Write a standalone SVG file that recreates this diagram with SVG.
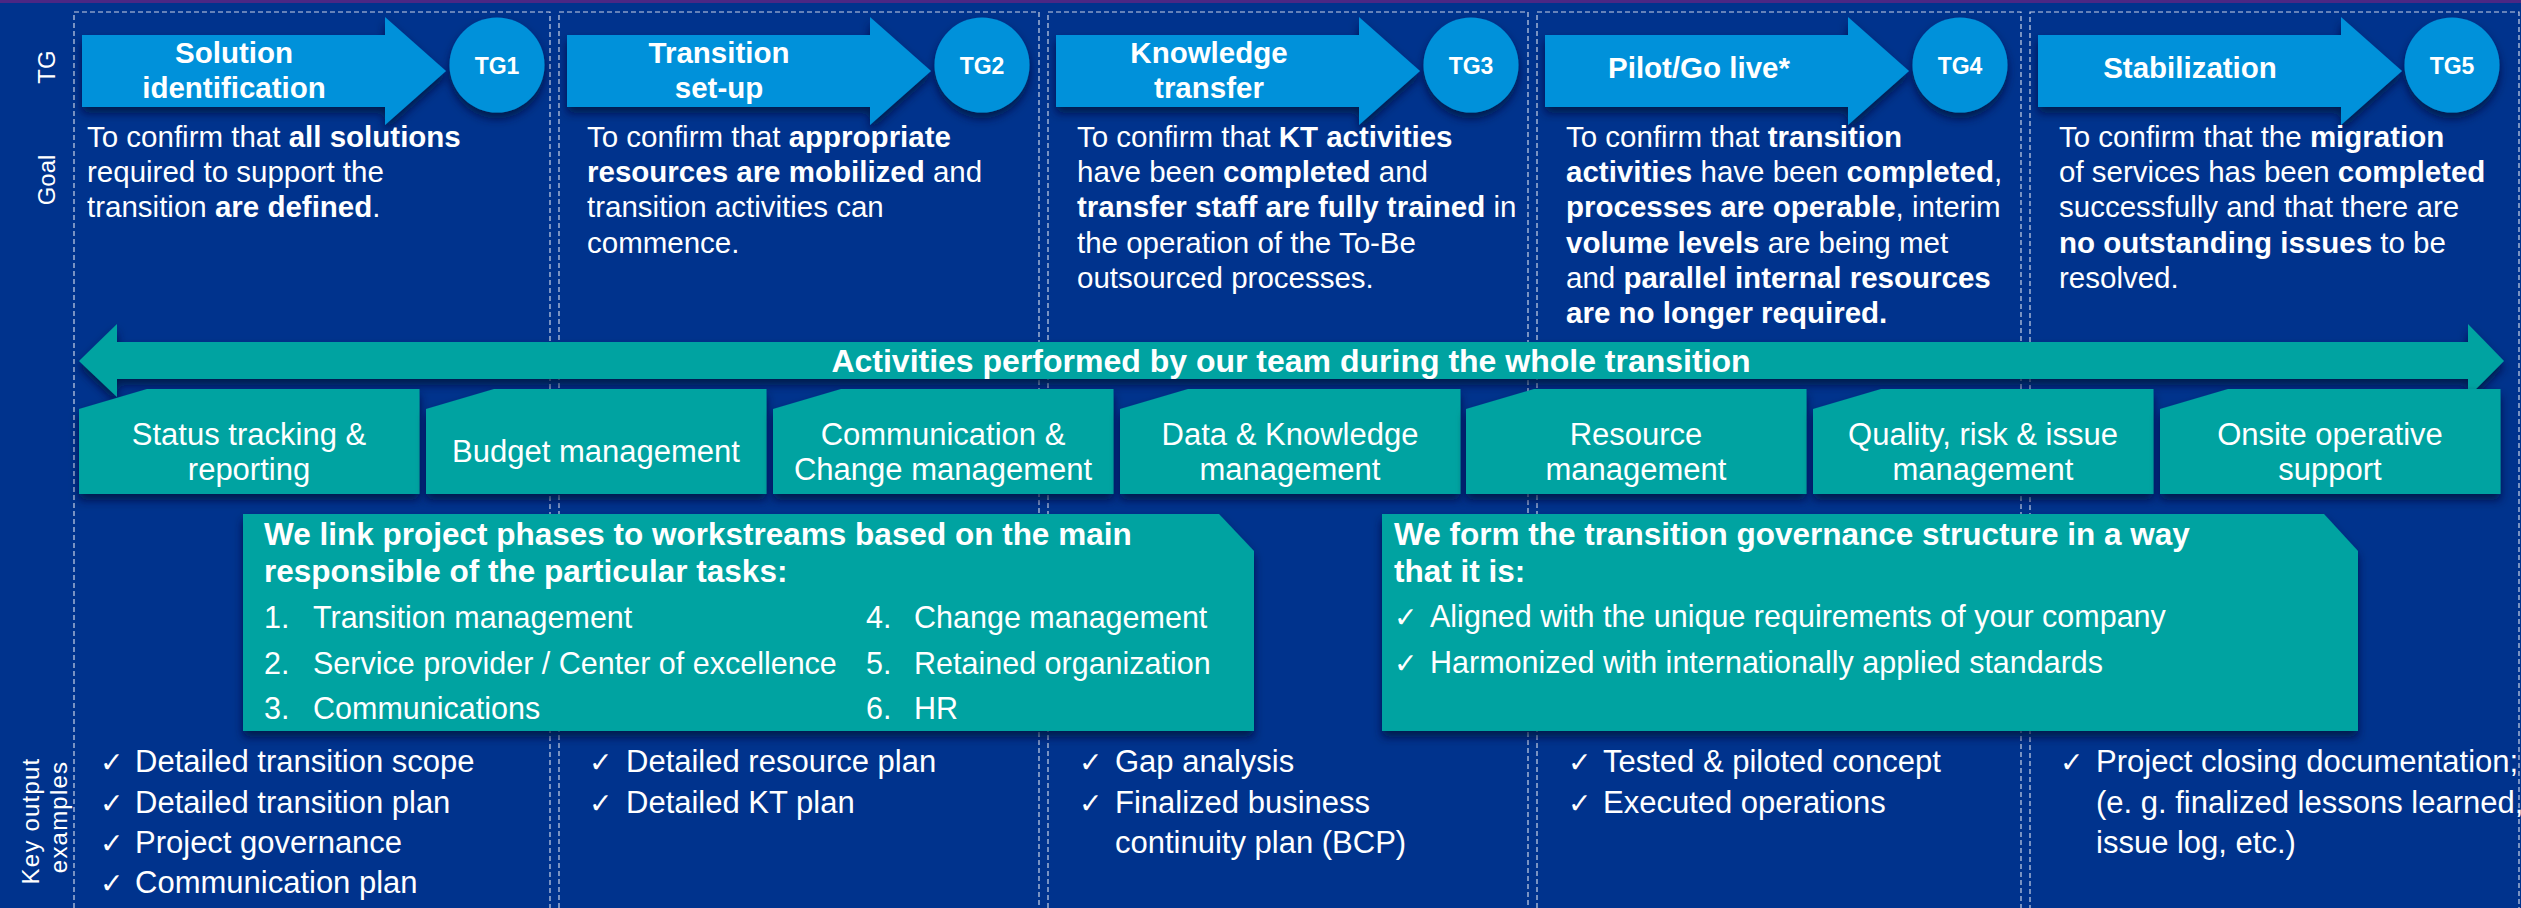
<svg xmlns="http://www.w3.org/2000/svg" xmlns:xlink="http://www.w3.org/1999/xlink" width="2521" height="908" viewBox="0 0 2521 908">
<defs>
<style>
.bg{fill:#00338D}
.topline{fill:#4B2784}
.lane{fill:none;stroke:#C9D2E6;stroke-width:1.2;stroke-dasharray:5 3}
.phase{fill:#0091DA}
.teal{fill:#00A3A1}
.t{font-family:"Liberation Sans",Arial,sans-serif;fill:#fff}
.side{font-size:24px}
.ph{font-size:29.5px;font-weight:700;text-anchor:middle}
.tgl{font-size:23px;font-weight:700;text-anchor:middle}
.goal{font-size:29.5px}
.b{font-weight:700}
.act{font-size:31px;text-anchor:middle}
.acttitle{font-size:32px;font-weight:700;text-anchor:middle}
.noteh{font-size:31.5px;font-weight:700}
.note{font-size:30.5px}
.out{font-size:31px}
.ck{font-family:"DejaVu Sans",sans-serif;font-size:28px}
</style>
<filter id="shadow" x="-10%" y="-20%" width="120%" height="160%">
<feDropShadow dx="0" dy="6" stdDeviation="5" flood-color="#001338" flood-opacity="0.75"/>
</filter>
<path id="phaseArrow" d="M8,35H311V17L372,71L311,125V107H8Z"/>
<path id="actTab" d="M0,20L68,0H340.5V105H0Z"/>
</defs>

<!-- background -->
<rect class="bg" x="0" y="0" width="2521" height="908"/>
<rect class="topline" x="0" y="0" width="2521" height="3"/>

<!-- row labels -->
<g id="row-labels" class="t side">
<text transform="translate(55,67) rotate(-90)" text-anchor="middle">TG</text>
<text transform="translate(55,180) rotate(-90)" text-anchor="middle">Goal</text>
<text transform="translate(39,821) rotate(-90)" text-anchor="middle" letter-spacing="1.2">Key output</text>
<text transform="translate(67,817) rotate(-90)" text-anchor="middle" letter-spacing="1.2">examples</text>
</g>

<!-- phase lanes -->
<g id="lanes">
<rect class="lane" x="74" y="12" width="476" height="920"/>
<rect class="lane" x="559" y="12" width="480" height="920"/>
<rect class="lane" x="1048" y="12" width="480" height="920"/>
<rect class="lane" x="1537" y="12" width="484" height="920"/>
<rect class="lane" x="2030" y="12" width="489" height="920"/>
</g>

<!-- phase 1 -->
<g id="phase-tg1">
<g filter="url(#shadow)">
<use href="#phaseArrow" class="phase" x="74"/>
<circle class="phase" cx="497" cy="65" r="47.5"/>
</g>
<text class="t ph" x="234" y="63">Solution</text>
<text class="t ph" x="234" y="98">identification</text>
<text class="t tgl" x="497" y="74">TG1</text>
<text class="t goal" x="87" y="146.7">To confirm that <tspan class="b">all solutions</tspan></text>
<text class="t goal" x="87" y="182">required to support the</text>
<text class="t goal" x="87" y="217.3">transition <tspan class="b">are defined</tspan>.</text>
</g>

<!-- phase 2 -->
<g id="phase-tg2">
<g filter="url(#shadow)">
<use href="#phaseArrow" class="phase" x="559"/>
<circle class="phase" cx="982" cy="65" r="47.5"/>
</g>
<text class="t ph" x="719" y="63">Transition</text>
<text class="t ph" x="719" y="98">set-up</text>
<text class="t tgl" x="982" y="74">TG2</text>
<text class="t goal" x="587" y="146.7">To confirm that <tspan class="b">appropriate</tspan></text>
<text class="t goal" x="587" y="182"><tspan class="b">resources are mobilized</tspan> and</text>
<text class="t goal" x="587" y="217.3">transition activities can</text>
<text class="t goal" x="587" y="252.6">commence.</text>
</g>

<!-- phase 3 -->
<g id="phase-tg3">
<g filter="url(#shadow)">
<use href="#phaseArrow" class="phase" x="1048"/>
<circle class="phase" cx="1471" cy="65" r="47.5"/>
</g>
<text class="t ph" x="1209" y="63">Knowledge</text>
<text class="t ph" x="1209" y="98">transfer</text>
<text class="t tgl" x="1471" y="74">TG3</text>
<text class="t goal" x="1077" y="146.7">To confirm that <tspan class="b">KT activities</tspan></text>
<text class="t goal" x="1077" y="182">have been <tspan class="b">completed</tspan> and</text>
<text class="t goal" x="1077" y="217.3"><tspan class="b">transfer staff are fully trained</tspan> in</text>
<text class="t goal" x="1077" y="252.6">the operation of the To-Be</text>
<text class="t goal" x="1077" y="287.9">outsourced processes.</text>
</g>

<!-- phase 4 -->
<g id="phase-tg4">
<g filter="url(#shadow)">
<use href="#phaseArrow" class="phase" x="1537"/>
<circle class="phase" cx="1960" cy="65" r="47.5"/>
</g>
<text class="t ph" x="1699" y="78">Pilot/Go live*</text>
<text class="t tgl" x="1960" y="74">TG4</text>
<text class="t goal" x="1566" y="146.7">To confirm that <tspan class="b">transition</tspan></text>
<text class="t goal" x="1566" y="182"><tspan class="b">activities</tspan> have been <tspan class="b">completed</tspan>,</text>
<text class="t goal" x="1566" y="217.3"><tspan class="b">processes are operable</tspan>, interim</text>
<text class="t goal" x="1566" y="252.6"><tspan class="b">volume levels</tspan> are being met</text>
<text class="t goal" x="1566" y="287.9">and <tspan class="b">parallel internal resources</tspan></text>
<text class="t goal b" x="1566" y="323.2">are no longer required.</text>
</g>

<!-- phase 5 -->
<g id="phase-tg5">
<g filter="url(#shadow)">
<use href="#phaseArrow" class="phase" x="2030"/>
<circle class="phase" cx="2452" cy="65" r="47.5"/>
</g>
<text class="t ph" x="2190" y="78">Stabilization</text>
<text class="t tgl" x="2452" y="74">TG5</text>
<text class="t goal" x="2059" y="146.7">To confirm that the <tspan class="b">migration</tspan></text>
<text class="t goal" x="2059" y="182">of services has been <tspan class="b">completed</tspan></text>
<text class="t goal" x="2059" y="217.3">successfully and that there are</text>
<text class="t goal" x="2059" y="252.6"><tspan class="b">no outstanding issues</tspan> to be</text>
<text class="t goal" x="2059" y="287.9">resolved.</text>
</g>

<!-- connectors: whole-transition double arrow -->
<g id="connectors">
<path class="teal" filter="url(#shadow)" d="M79,361L117,324V342H2468V324L2504,361L2468,397V379H117V397Z"/>
</g>
<text class="t acttitle" x="1291" y="372">Activities performed by our team during the whole transition</text>

<!-- ongoing activities -->
<g id="act-status">
<use href="#actTab" class="teal" x="79" y="389" filter="url(#shadow)"/>
<text class="t act" x="249" y="445">Status tracking &amp;</text>
<text class="t act" x="249" y="480">reporting</text>
</g>
<g id="act-budget">
<use href="#actTab" class="teal" x="426" y="389" filter="url(#shadow)"/>
<text class="t act" x="596" y="462">Budget management</text>
</g>
<g id="act-communication">
<use href="#actTab" class="teal" x="773" y="389" filter="url(#shadow)"/>
<text class="t act" x="943" y="445">Communication &amp;</text>
<text class="t act" x="943" y="480">Change management</text>
</g>
<g id="act-knowledge">
<use href="#actTab" class="teal" x="1120" y="389" filter="url(#shadow)"/>
<text class="t act" x="1290" y="445">Data &amp; Knowledge</text>
<text class="t act" x="1290" y="480">management</text>
</g>
<g id="act-resource">
<use href="#actTab" class="teal" x="1466" y="389" filter="url(#shadow)"/>
<text class="t act" x="1636" y="445">Resource</text>
<text class="t act" x="1636" y="480">management</text>
</g>
<g id="act-quality">
<use href="#actTab" class="teal" x="1813" y="389" filter="url(#shadow)"/>
<text class="t act" x="1983" y="445">Quality, risk &amp; issue</text>
<text class="t act" x="1983" y="480">management</text>
</g>
<g id="act-onsite">
<use href="#actTab" class="teal" x="2160" y="389" filter="url(#shadow)"/>
<text class="t act" x="2330" y="445">Onsite operative</text>
<text class="t act" x="2330" y="480">support</text>
</g>

<!-- workstream note -->
<g id="note-workstreams">
<path class="teal" filter="url(#shadow)" d="M243,514H1219L1254,551V731H243Z"/>
<text class="t noteh" x="264" y="545">We link project phases to workstreams based on the main</text>
<text class="t noteh" x="264" y="582">responsible of the particular tasks:</text>
<g class="t note">
<text x="264" y="628">1.</text><text x="313" y="628">Transition management</text>
<text x="264" y="674">2.</text><text x="313" y="674">Service provider / Center of excellence</text>
<text x="264" y="719">3.</text><text x="313" y="719">Communications</text>
<text x="866" y="628">4.</text><text x="914" y="628">Change management</text>
<text x="866" y="674">5.</text><text x="914" y="674">Retained organization</text>
<text x="866" y="719">6.</text><text x="914" y="719">HR</text>
</g>
</g>

<!-- governance note -->
<g id="note-governance">
<path class="teal" filter="url(#shadow)" d="M1382,514H2324L2358,551V731H1382Z"/>
<text class="t noteh" x="1394" y="545">We form the transition governance structure in a way</text>
<text class="t noteh" x="1394" y="582">that it is:</text>
<text class="t ck" x="1394" y="627">✓</text><text class="t note" x="1430" y="627">Aligned with the unique requirements of your company</text>
<text class="t ck" x="1394" y="673">✓</text><text class="t note" x="1430" y="673">Harmonized with internationally applied standards</text>
</g>

<!-- key outputs -->
<g id="out-tg1">
<text class="t ck" x="100" y="772">✓</text><text class="t out" x="135" y="772">Detailed transition scope</text>
<text class="t ck" x="100" y="813">✓</text><text class="t out" x="135" y="813">Detailed transition plan</text>
<text class="t ck" x="100" y="853">✓</text><text class="t out" x="135" y="853">Project governance</text>
<text class="t ck" x="100" y="893">✓</text><text class="t out" x="135" y="893">Communication plan</text>
</g>
<g id="out-tg2">
<text class="t ck" x="589" y="772">✓</text><text class="t out" x="626" y="772">Detailed resource plan</text>
<text class="t ck" x="589" y="813">✓</text><text class="t out" x="626" y="813">Detailed KT plan</text>
</g>
<g id="out-tg3">
<text class="t ck" x="1079" y="772">✓</text><text class="t out" x="1115" y="772">Gap analysis</text>
<text class="t ck" x="1079" y="813">✓</text><text class="t out" x="1115" y="813">Finalized business</text>
<text class="t out" x="1115" y="853">continuity plan (BCP)</text>
</g>
<g id="out-tg4">
<text class="t ck" x="1568" y="772">✓</text><text class="t out" x="1603" y="772">Tested &amp; piloted concept</text>
<text class="t ck" x="1568" y="813">✓</text><text class="t out" x="1603" y="813">Executed operations</text>
</g>
<g id="out-tg5">
<text class="t ck" x="2060" y="772">✓</text><text class="t out" x="2096" y="772">Project closing documentation;</text>
<text class="t out" x="2096" y="813">(e. g. finalized lessons learned,</text>
<text class="t out" x="2096" y="853">issue log, etc.)</text>
</g>
</svg>
